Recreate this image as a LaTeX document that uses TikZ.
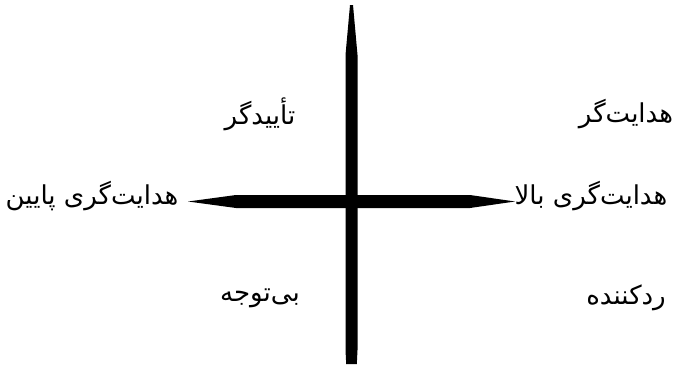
\documentclass[tikz,border=0pt]{standalone}
\usepackage{fontspec}
\newfontfamily\arabicfont[Script=Arabic]{DejaVu Sans}
\TeXXeTstate=1
\tikzset{lbl/.style={font=\arabicfont\fontsize{26}{30}\selectfont, inner sep=0pt, anchor=center}}
\begin{document}
\begin{tikzpicture}[x=1pt,y=-1pt]
\useasboundingbox (0,0) rectangle (679,364);
\fill[black] (350,5) -- (353,5) -- (357.5,55) -- (357.5,350) -- (356.8,364) -- (346.2,364) -- (345.5,350) -- (345.5,55) -- cycle;
\fill[black] (188,201.5) -- (236,195) -- (470,195) -- (515,201.5) -- (470,208) -- (236,208) -- cycle;
\node[lbl] (ta) at (260,114) {\beginR تأییدگر\endR};
\node[lbl] (ha) at (626,114) {\beginR هدایت‌گر\endR};
\node[lbl] (hp) at (92,196) {\beginR هدایت‌گری پایین\endR};
\node[lbl] (hb) at (591,196) {\beginR هدایت‌گری بالا\endR};
\node[lbl] (bt) at (260,298) {\beginR بی‌توجه\endR};
\node[lbl] (rk) at (626,298) {\beginR ردکننده\endR};
\end{tikzpicture}
\end{document}
